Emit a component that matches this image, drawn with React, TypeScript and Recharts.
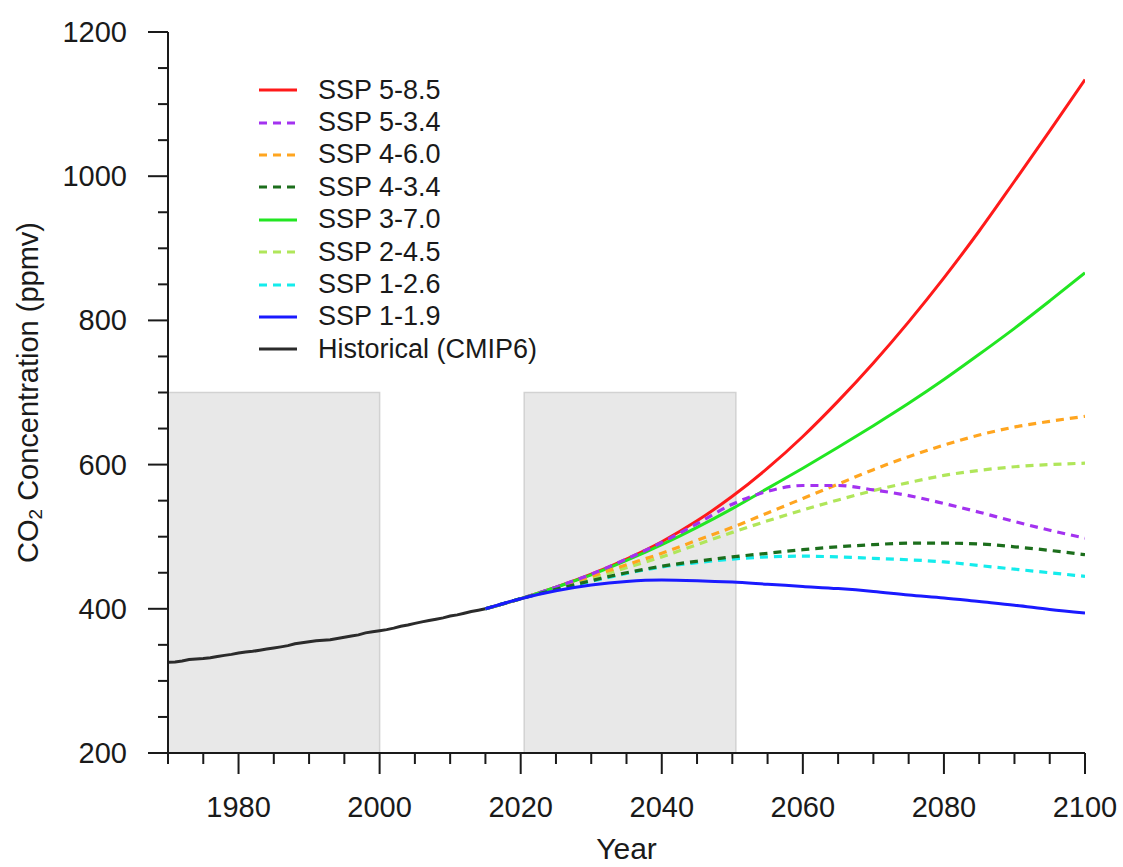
import { LineChart, Line, XAxis, YAxis, ReferenceArea, Legend } from "recharts";

// historical CMIP6 CO2, one value per year from 1970
const histStart = 1970;
const historical = [
  325.7, 326.3, 327.5, 329.6, 330.3, 331.0, 332.0, 333.8, 335.4, 336.8,
  338.7, 340.1, 341.0, 342.6, 344.2, 345.7, 347.2, 348.9, 351.4, 352.9,
  354.2, 355.6, 356.4, 357.1, 358.8, 360.6, 362.4, 363.8, 366.6, 368.3,
  369.6, 371.1, 373.2, 375.8, 377.5, 379.8, 381.9, 383.8, 385.6, 387.4,
  389.9, 391.6, 393.9, 396.2, 398.1, 400.0,
];

const sspYears = [2015, 2020, 2025, 2030, 2035, 2040, 2045, 2050, 2055, 2060, 2065, 2070, 2075, 2080, 2085, 2090, 2095, 2100];
const ssp585 = [400, 414, 430, 448, 469, 493, 522, 556, 595, 639, 688, 741, 798, 859, 924, 993, 1063, 1134];
const ssp534 = [400, 414, 430, 448, 469, 492, 518, 545, 563, 571, 571, 565, 557, 546, 534, 521, 509, 498];
const ssp460 = [400, 414, 429, 445, 461, 477, 495, 513, 533, 553, 573, 593, 611, 627, 641, 652, 660, 667];
const ssp434 = [400, 414, 427, 439, 450, 459, 466, 472, 477, 482, 486, 489, 491, 491, 490, 486, 481, 475];
const ssp370 = [400, 414, 430, 447, 467, 489, 513, 539, 567, 595, 624, 654, 685, 718, 753, 789, 827, 866];
const ssp245 = [400, 414, 428, 442, 457, 472, 489, 506, 522, 537, 551, 564, 575, 585, 592, 597, 600, 602];
const ssp126 = [400, 414, 427, 438, 449, 458, 464, 469, 472, 473, 472, 470, 468, 465, 460, 455, 450, 445];
const ssp119 = [400, 414, 425, 433, 438, 440, 439, 437, 434, 431, 428, 424, 419, 415, 410, 405, 399, 394];

const xTicks = [1970, 1975, 1980, 1985, 1990, 1995, 2000, 2005, 2010, 2015, 2020, 2025, 2030, 2035, 2040, 2045, 2050, 2055, 2060, 2065, 2070, 2075, 2080, 2085, 2090, 2095, 2100];
const xLabelTicks = [1980, 2000, 2020, 2040, 2060, 2080, 2100];
const yTicks = [200, 250, 300, 350, 400, 450, 500, 550, 600, 650, 700, 750, 800, 850, 900, 950, 1000, 1050, 1100, 1150, 1200];
const yLabelTicks = [200, 400, 600, 800, 1000, 1200];

// grey boxes: [from year, to year, from ppm, to ppm]
const shadedBoxes = [
  [1970, 2000, 200, 700],
  [2020.5, 2050.5, 200, 700],
];

const FONT = "'Liberation Sans', Arial, Helvetica, sans-serif";
const INK = "#1a1a1a";

const toPoints = (years: number[], values: number[]) => years.map((year, i) => ({ year, value: values[i] }));

const histPoints = historical.map((value, i) => ({ year: histStart + i, value }));

// legend order
const series = [
  { name: "SSP 5-8.5", color: "#ff1a1a", dashed: false, points: toPoints(sspYears, ssp585) },
  { name: "SSP 5-3.4", color: "#a332f0", dashed: true, points: toPoints(sspYears, ssp534) },
  { name: "SSP 4-6.0", color: "#ffa51f", dashed: true, points: toPoints(sspYears, ssp460) },
  { name: "SSP 4-3.4", color: "#1c6e1c", dashed: true, points: toPoints(sspYears, ssp434) },
  { name: "SSP 3-7.0", color: "#22e622", dashed: false, points: toPoints(sspYears, ssp370) },
  { name: "SSP 2-4.5", color: "#b0e65a", dashed: true, points: toPoints(sspYears, ssp245) },
  { name: "SSP 1-2.6", color: "#14ecec", dashed: true, points: toPoints(sspYears, ssp126) },
  { name: "SSP 1-1.9", color: "#1a1aff", dashed: false, points: toPoints(sspYears, ssp119) },
  { name: "Historical (CMIP6)", color: "#2b2b2b", dashed: false, points: histPoints },
];

const drawOrder = ["Historical (CMIP6)", "SSP 5-8.5", "SSP 3-7.0", "SSP 2-4.5", "SSP 4-6.0", "SSP 5-3.4", "SSP 1-2.6", "SSP 4-3.4", "SSP 1-1.9"];

function BottomTick({ x, y, payload }: any) {
  const major = xLabelTicks.includes(payload.value);
  return (
    <g>
      <line x1={x} x2={x} y1={y} y2={y + (major ? 21 : 11)} stroke={INK} strokeWidth={2} />
      {major && (
        <text x={x} y={y + 64} textAnchor="middle" fontSize={29} fontFamily={FONT} fill={INK}>
          {payload.value}
        </text>
      )}
    </g>
  );
}

function TopTick({ x, y, payload }: any) {
  const major = xLabelTicks.includes(payload.value);
  return <line x1={x} x2={x} y1={y} y2={y - (major ? 21 : 11)} stroke={INK} strokeWidth={2} />;
}

function LeftTick({ x, y, payload }: any) {
  const major = yLabelTicks.includes(payload.value);
  return (
    <g>
      <line x1={x - (major ? 20 : 10)} x2={x} y1={y} y2={y} stroke={INK} strokeWidth={2} />
      {major && (
        <text x={x - 41} y={y + 10} textAnchor="end" fontSize={29} fontFamily={FONT} fill={INK}>
          {payload.value}
        </text>
      )}
    </g>
  );
}

function RightTick({ x, y, payload }: any) {
  const major = yLabelTicks.includes(payload.value);
  return <line x1={x} x2={x + (major ? 20 : 10)} y1={y} y2={y} stroke={INK} strokeWidth={2} />;
}

function YTitle({ viewBox }: any) {
  const cy = viewBox ? viewBox.y + viewBox.height / 2 : 392;
  return (
    <text x={28} y={cy} transform={`rotate(-90 28 ${cy})`} textAnchor="middle" dominantBaseline="central" fontSize={29} fontFamily={FONT} fill={INK}>
      CO<tspan fontSize={19} dy={7}>2</tspan>
      <tspan dy={-7}> Concentration (ppmv)</tspan>
    </text>
  );
}

function XTitle({ viewBox }: any) {
  const cx = viewBox ? viewBox.x + viewBox.width / 2 : 626;
  return (
    <text x={cx} y={859} textAnchor="middle" fontSize={30} fontFamily={FONT} fill={INK}>
      Year
    </text>
  );
}

function LegendBox() {
  return (
    <div style={{ fontFamily: FONT, fontSize: 27, color: INK }}>
      {series.map((s) => (
        <div key={s.name} style={{ display: "flex", alignItems: "center", height: 32.4 }}>
          <svg width={38} height={6} style={{ display: "block" }}>
            <line x1={0} x2={38} y1={3} y2={3} stroke={s.color} strokeWidth={3} strokeDasharray={s.dashed ? "8 6" : undefined} />
          </svg>
          <span style={{ marginLeft: 21, lineHeight: 1, whiteSpace: "nowrap" }}>{s.name}</span>
        </div>
      ))}
    </div>
  );
}

export default function App() {
  return (
    <div style={{ position: "absolute", left: 0, top: 0, width: 1123, height: 867, background: "#fff" }}>
      <LineChart width={1123} height={867} margin={{ top: 32, right: 38, bottom: 0, left: 0 }}>
        <XAxis
          dataKey="year"
          type="number"
          domain={[1970, 2100]}
          allowDataOverflow
          ticks={xTicks}
          interval={0}
          height={114}
          tickSize={0}
          tickMargin={0}
          tick={BottomTick}
          axisLine={{ stroke: INK, strokeWidth: 2 }}
          label={{ content: XTitle }}
        />
        <XAxis
          xAxisId="top"
          orientation="top"
          dataKey="year"
          type="number"
          domain={[1970, 2100]}
          allowDataOverflow
          ticks={xTicks}
          interval={0}
          height={0}
          tickSize={0}
          tickMargin={0}
          tick={TopTick}
          axisLine={{ stroke: INK, strokeWidth: 2 }}
        />
        <YAxis
          type="number"
          domain={[200, 1200]}
          allowDataOverflow
          ticks={yTicks}
          interval={0}
          width={168}
          tickSize={0}
          tickMargin={0}
          tick={LeftTick}
          axisLine={{ stroke: INK, strokeWidth: 2 }}
          label={{ content: YTitle }}
        />
        <YAxis
          yAxisId="right"
          orientation="right"
          type="number"
          domain={[200, 1200]}
          allowDataOverflow
          ticks={yTicks}
          interval={0}
          width={0}
          tickSize={0}
          tickMargin={0}
          tick={RightTick}
          axisLine={{ stroke: INK, strokeWidth: 2 }}
        />
        {shadedBoxes.map(([x1, x2, y1, y2]) => (
          <ReferenceArea key={x1} x1={x1} x2={x2} y1={y1} y2={y2} fill="#e8e8e8" fillOpacity={1} stroke="#d2d2d2" strokeWidth={1.5} />
        ))}
        {drawOrder.map((name) => {
          const s = series.find((d) => d.name === name)!;
          return (
            <Line
              key={s.name}
              data={s.points}
              dataKey="value"
              name={s.name}
              type={s.name.startsWith("Hist") ? "linear" : "monotone"}
              stroke={s.color}
              strokeWidth={s.dashed ? 3.2 : 3}
              strokeDasharray={s.dashed ? "8 6" : undefined}
              dot={false}
              activeDot={false}
              isAnimationActive={false}
            />
          );
        })}
        <Legend
          layout="vertical"
          align="center"
          verticalAlign="middle"
          wrapperStyle={{ left: 259, top: 74, width: 320 }}
          content={LegendBox}
        />
      </LineChart>
    </div>
  );
}
